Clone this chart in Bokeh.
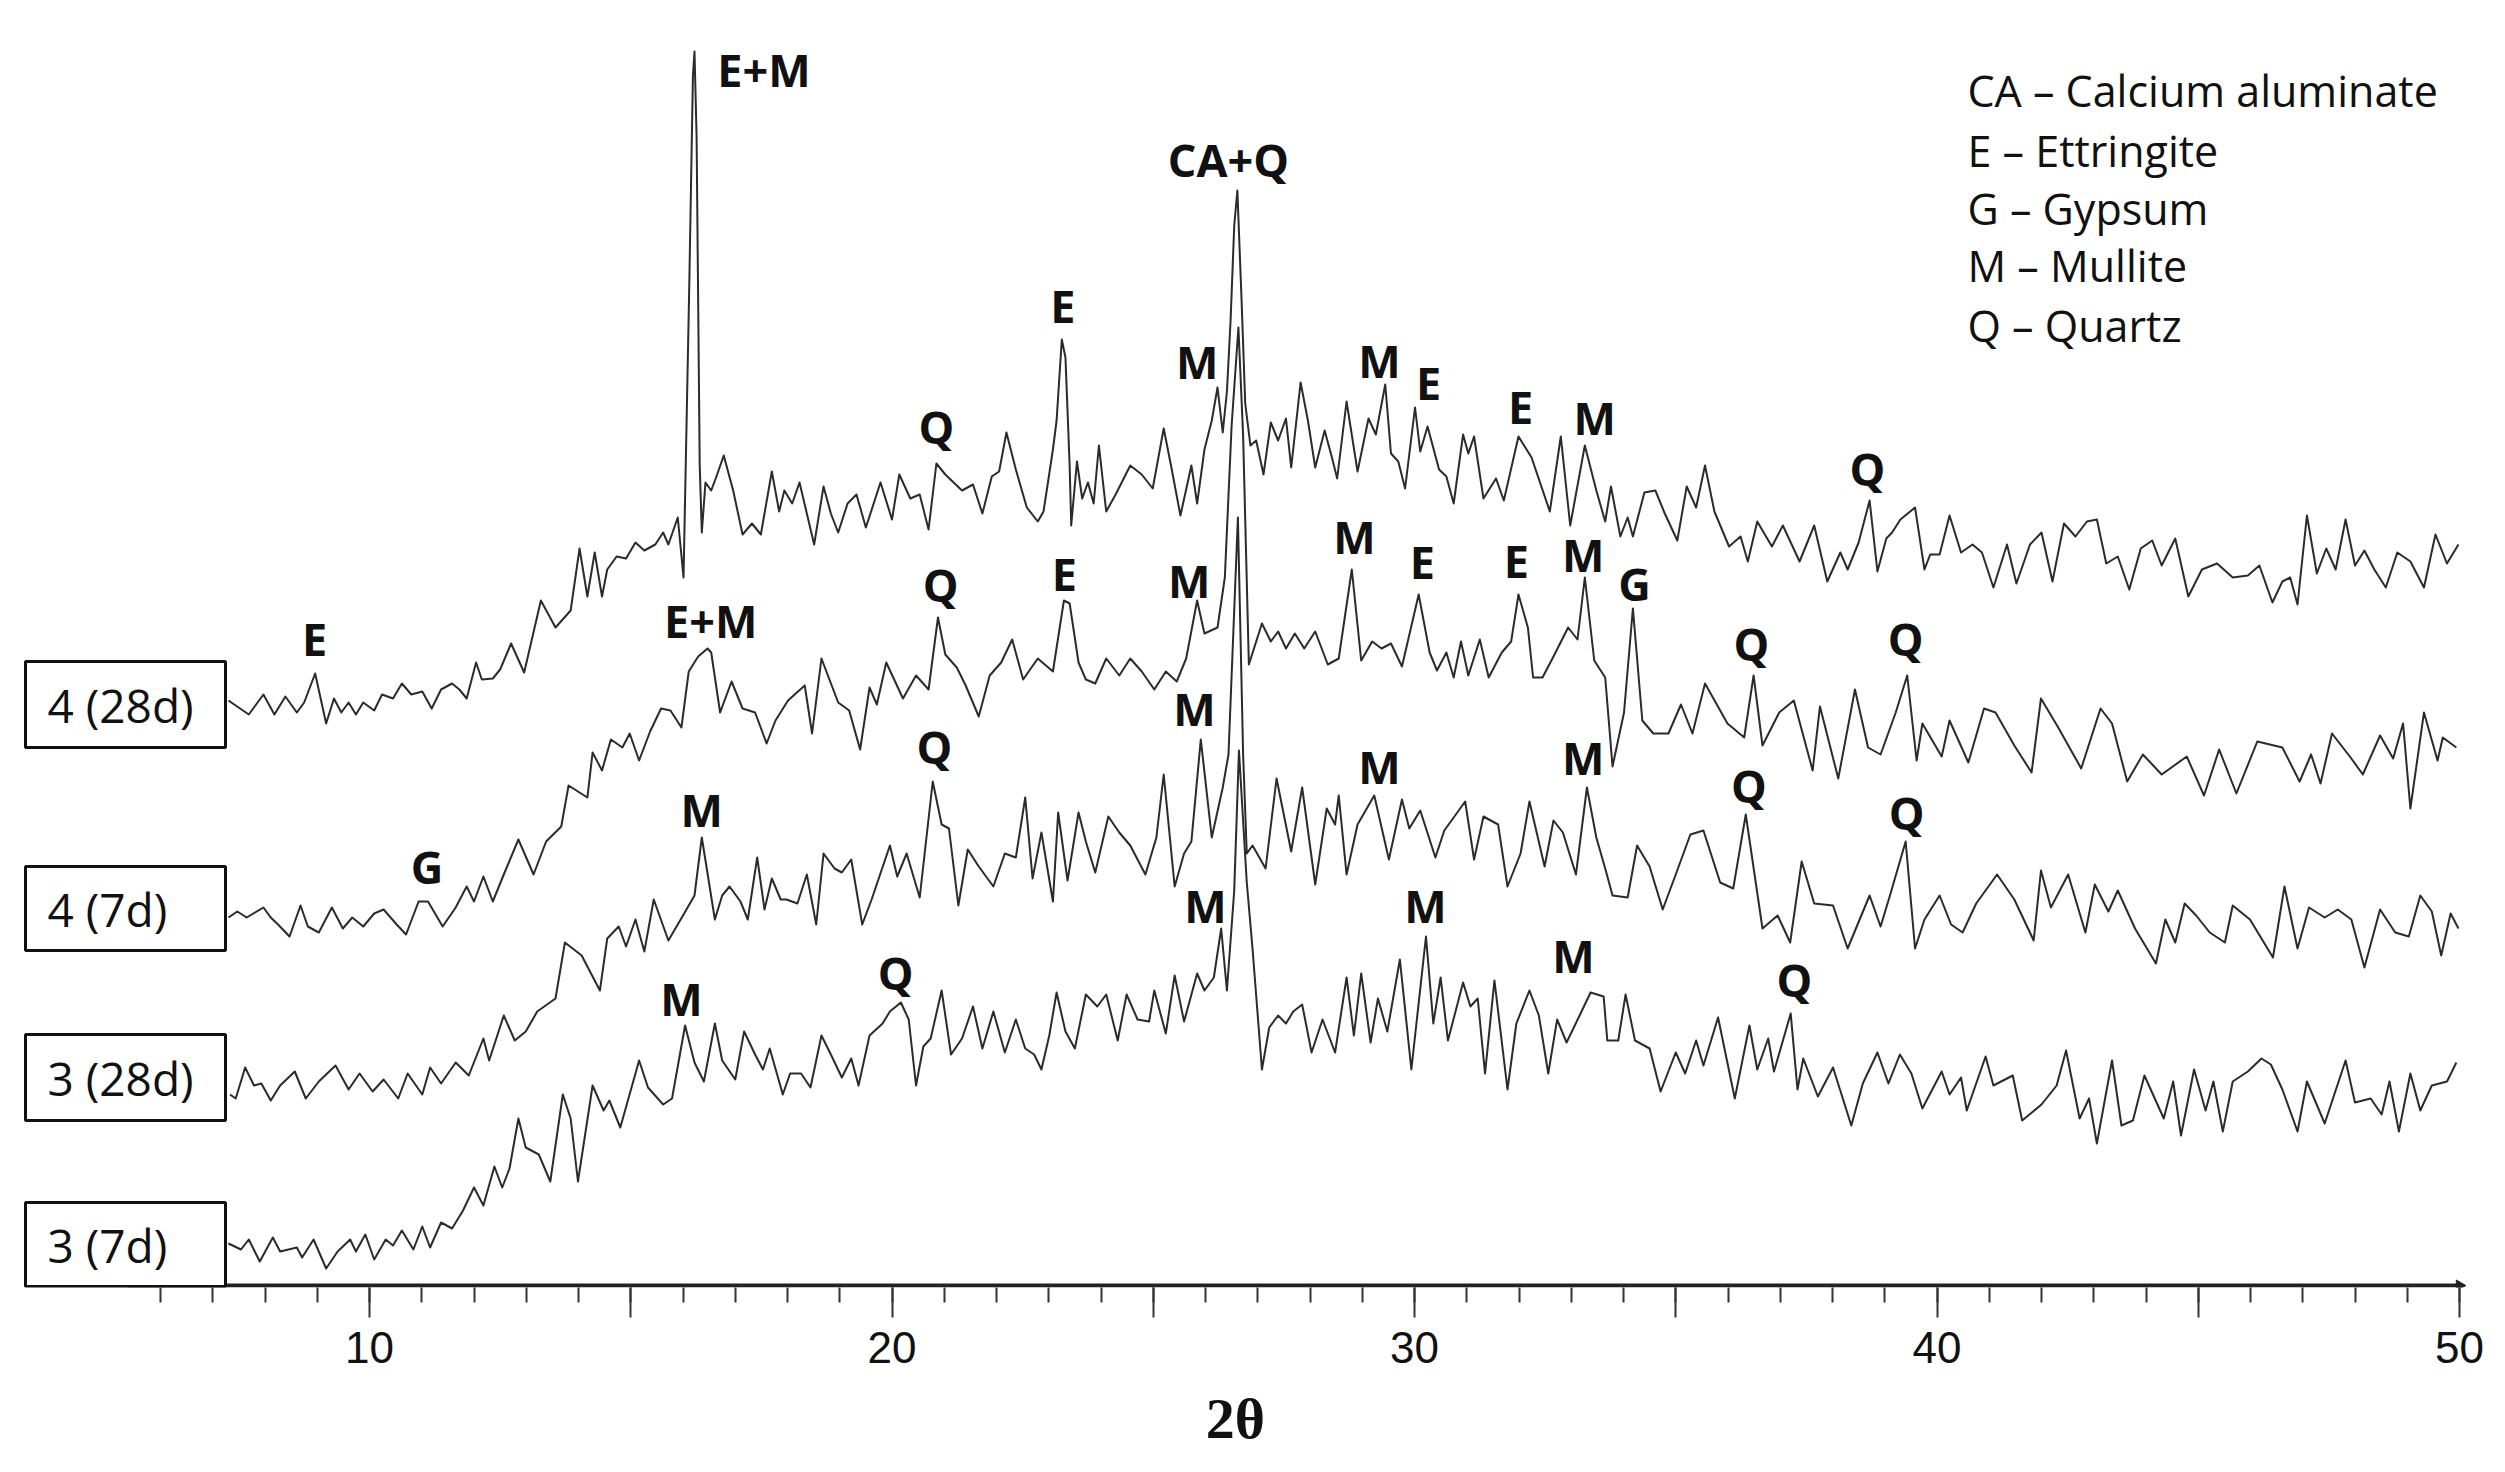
import math
from bokeh.plotting import figure
from bokeh.models import Range1d, FixedTicker, ColumnDataSource
from bokeh.core.properties import value
from bokeh.embed import file_html
from bokeh.resources import INLINE

# ---------------- data (2theta in degrees, intensity in arbitrary units) ----------------
PATTERN_4_28D = [(7.30,5),(7.69,-9),(7.97,11),(8.18,-9),(8.39,9),(8.61,-7),(8.75,3),(8.96,32),(9.17,-18),(9.32,7),(9.46,-7),(9.60,3),(9.74,-9),(9.88,3),(10.09,-5),(10.24,11),(10.45,7),(10.62,22),(10.80,11),(11.01,14),(11.19,-3),(11.37,16),(11.58,22),(11.72,16),(11.86,7),(12.04,43),(12.15,26),(12.36,27),(12.50,36),(12.71,62),(12.96,33),(13.28,105),(13.56,78),(13.85,95),(14.02,157),(14.17,109),(14.31,153),(14.45,109),(14.55,136),(14.73,149),(14.91,147),(15.09,163),(15.26,155),(15.47,161),(15.62,173),(15.72,161),(15.90,188),(16.01,128),(16.12,420),(16.19,630),(16.22,654),(16.26,570),(16.32,240),(16.36,173),(16.43,223),(16.54,215),(16.64,229),(16.78,250),(16.96,215),(17.14,171),(17.32,182),(17.49,171),(17.70,234),(17.84,194),(17.94,215),(18.09,202),(18.23,223),(18.51,161),(18.69,219),(18.83,192),(18.97,173),(19.15,202),(19.32,211),(19.50,178),(19.78,223),(20.00,186),(20.14,231),(20.35,207),(20.53,211),(20.70,176),(20.85,242),(21.02,231),(21.34,215),(21.55,221),(21.73,192),(21.91,229),(22.05,234),(22.19,273),(22.37,236),(22.58,198),(22.79,184),(22.90,194),(23.08,256),(23.15,285),(23.25,366),(23.32,348),(23.40,240),(23.43,180),(23.54,244),(23.64,207),(23.75,223),(23.86,202),(23.96,260),(24.10,194),(24.28,211),(24.56,240),(24.78,231),(24.99,217),(25.20,277),(25.34,240),(25.52,190),(25.73,240),(25.84,202),(25.98,256),(26.12,285),(26.23,318),(26.33,273),(26.41,314),(26.48,385),(26.55,480),(26.61,515),(26.69,406),(26.76,302),(26.86,260),(26.97,265),(27.11,231),(27.25,283),(27.39,265),(27.54,287),(27.64,238),(27.82,323),(27.96,285),(28.10,238),(28.28,275),(28.42,248),(28.52,227),(28.70,304),(28.91,234),(29.12,287),(29.26,271),(29.44,321),(29.55,252),(29.69,244),(29.82,217),(30.01,298),(30.11,254),(30.25,279),(30.47,236),(30.61,229),(30.75,202),(30.93,271),(31.03,252),(31.14,269),(31.32,207),(31.56,227),(31.71,205),(31.99,269),(32.24,248),(32.59,194),(32.80,269),(32.98,180),(33.26,260),(33.48,215),(33.65,184),(33.76,219),(33.94,169),(34.08,188),(34.18,169),(34.40,213),(34.61,215),(34.79,192),(35.03,165),(35.21,219),(35.39,198),(35.56,240),(35.74,194),(36.02,159),(36.24,169),(36.38,144),(36.56,184),(36.84,159),(37.05,180),(37.37,144),(37.65,180),(37.90,124),(38.15,153),(38.29,136),(38.50,163),(38.71,205),(38.86,134),(39.03,167),(39.14,173),(39.30,186),(39.58,198),(39.76,136),(39.87,151),(40.05,151),(40.24,190),(40.46,153),(40.68,161),(40.86,153),(41.08,118),(41.34,161),(41.52,122),(41.78,161),(42.00,173),(42.21,124),(42.43,182),(42.65,169),(42.87,184),(43.06,186),(43.24,142),(43.46,149),(43.68,116),(43.90,157),(44.12,165),(44.30,140),(44.56,167),(44.81,109),(45.07,136),(45.36,142),(45.66,128),(45.95,130),(46.17,140),(46.42,103),(46.61,124),(46.76,128),(46.90,101),(47.08,190),(47.27,132),(47.45,157),(47.63,136),(47.82,186),(48.00,140),(48.18,155),(48.37,136),(48.59,118),(48.81,153),(49.06,144),(49.32,118),(49.54,171),(49.76,142),(49.98,161)]

PATTERN_4_7D = [(7.30,3),(7.47,9),(7.65,3),(7.97,13),(8.11,3),(8.25,-4),(8.47,-16),(8.68,15),(8.82,-6),(9.03,-12),(9.28,13),(9.49,-8),(9.67,3),(9.88,-6),(10.09,7),(10.27,11),(10.52,-4),(10.70,-14),(10.94,19),(11.12,19),(11.40,-6),(11.65,13),(11.86,34),(12.00,19),(12.18,44),(12.36,19),(12.57,46),(12.85,81),(13.14,46),(13.38,79),(13.67,94),(13.81,135),(13.99,129),(14.17,123),(14.27,168),(14.45,150),(14.62,181),(14.84,173),(14.98,187),(15.16,160),(15.37,189),(15.58,212),(15.76,210),(15.97,193),(16.11,249),(16.29,264),(16.47,272),(16.54,268),(16.71,208),(16.93,239),(17.14,212),(17.38,208),(17.60,177),(17.77,200),(18.01,220),(18.33,235),(18.47,187),(18.65,262),(18.97,218),(19.18,210),(19.39,171),(19.57,233),(19.71,216),(19.89,258),(20.21,222),(20.46,245),(20.70,231),(20.88,303),(21.02,266),(21.24,253),(21.41,235),(21.66,204),(21.87,245),(22.09,258),(22.30,281),(22.51,241),(22.79,262),(23.08,249),(23.29,320),(23.40,317),(23.57,258),(23.71,241),(23.89,237),(24.10,262),(24.35,245),(24.56,262),(24.78,249),(25.02,231),(25.24,249),(25.45,239),(25.63,262),(25.84,320),(25.98,287),(26.23,293),(26.37,343),(26.50,495),(26.63,593),(26.72,485),(26.83,256),(27.08,297),(27.25,279),(27.39,289),(27.54,272),(27.71,287),(27.89,272),(28.10,289),(28.34,256),(28.55,262),(28.80,351),(28.98,260),(29.19,279),(29.37,272),(29.55,277),(29.76,254),(30.08,326),(30.29,268),(30.43,250),(30.61,268),(30.75,243),(30.89,279),(31.03,245),(31.25,281),(31.42,243),(31.67,268),(31.85,279),(31.99,326),(32.17,293),(32.27,243),(32.45,243),(32.66,264),(32.94,293),(33.12,281),(33.26,343),(33.44,260),(33.65,243),(33.79,154),(34.01,208),(34.18,312),(34.36,200),(34.57,187),(34.86,187),(35.10,216),(35.32,187),(35.56,237),(35.99,197),(36.31,183),(36.49,245),(36.66,175),(36.98,208),(37.26,220),(37.62,150),(37.76,214),(38.11,142),(38.43,231),(38.68,173),(38.92,166),(39.21,208),(39.43,245),(39.61,160),(39.72,197),(40.09,164),(40.24,200),(40.60,158),(40.90,212),(41.12,208),(41.48,175),(41.81,148),(41.99,222),(42.32,193),(42.76,152),(43.13,212),(43.35,197),(43.64,139),(43.94,166),(44.30,146),(44.78,164),(45.11,125),(45.40,171),(45.73,127),(46.13,179),(46.61,173),(46.94,139),(47.16,166),(47.34,137),(47.56,187),(47.93,162),(48.15,146),(48.48,185),(48.73,162),(48.92,197),(49.06,112),(49.32,208),(49.58,160),(49.68,183),(49.94,173)]

PATTERN_3_28D = [(7.33,1),(7.44,-3),(7.62,28),(7.79,10),(7.93,12),(8.11,-5),(8.29,10),(8.57,24),(8.78,-3),(9.03,14),(9.35,30),(9.60,6),(9.81,22),(10.06,4),(10.27,16),(10.55,-3),(10.73,22),(11.01,1),(11.16,28),(11.37,12),(11.65,33),(11.90,20),(12.18,57),(12.29,35),(12.57,80),(12.78,55),(12.99,64),(13.21,84),(13.56,97),(13.74,153),(14.06,140),(14.41,105),(14.55,157),(14.77,169),(14.91,149),(15.09,176),(15.26,144),(15.44,196),(15.72,155),(16.00,180),(16.22,200),(16.36,258),(16.61,176),(16.75,200),(16.89,209),(17.10,194),(17.24,176),(17.42,238),(17.56,186),(17.70,217),(17.87,196),(17.98,196),(18.19,192),(18.37,221),(18.55,171),(18.69,242),(18.90,227),(19.04,223),(19.22,236),(19.43,171),(19.61,196),(19.96,250),(20.10,219),(20.28,242),(20.53,198),(20.78,314),(20.95,271),(21.09,267),(21.27,190),(21.45,246),(21.66,229),(21.94,209),(22.16,242),(22.37,238),(22.55,298),(22.69,217),(22.86,263),(23.08,194),(23.18,283),(23.36,215),(23.57,283),(23.71,254),(23.89,223),(24.14,279),(24.35,263),(24.56,250),(24.85,221),(25.06,258),(25.20,321),(25.41,209),(25.59,242),(25.73,254),(25.91,356),(26.12,258),(26.33,308),(26.44,341),(26.62,578),(26.72,341),(26.79,242),(26.90,250),(27.15,227),(27.36,317),(27.64,244),(27.85,308),(28.10,211),(28.32,287),(28.48,271),(28.55,300),(28.70,221),(28.91,271),(29.23,300),(29.51,236),(29.76,296),(29.90,267),(30.11,285),(30.40,238),(30.57,265),(30.97,294),(31.14,236),(31.32,279),(31.60,271),(31.78,209),(32.03,242),(32.20,294),(32.49,229),(32.66,275),(32.84,263),(33.09,221),(33.30,308),(33.48,258),(33.65,227),(33.79,200),(34.08,198),(34.26,250),(34.50,229),(34.75,186),(35.00,221),(35.28,261),(35.53,265),(35.85,213),(36.10,207),(36.34,281),(36.66,167),(36.95,180),(37.19,153),(37.41,234),(37.65,192),(38.01,190),(38.29,147),(38.71,200),(38.92,169),(39.10,200),(39.40,254),(39.58,147),(39.76,176),(40.05,200),(40.27,171),(40.49,163),(40.75,192),(41.15,221),(41.48,196),(41.85,155),(41.99,225),(42.18,188),(42.51,221),(42.84,163),(43.02,211),(43.28,184),(43.46,205),(43.79,167),(44.19,132),(44.37,176),(44.56,153),(44.74,192),(44.96,180),(45.22,163),(45.51,153),(45.66,190),(45.99,176),(46.43,138),(46.65,209),(46.90,147),(47.12,188),(47.42,178),(47.67,186),(47.93,176),(48.18,128),(48.48,186),(48.77,163),(49.03,159),(49.25,200),(49.47,184),(49.65,140),(49.83,182),(49.98,167)]

PATTERN_3_7D = [(7.30,2),(7.54,-4),(7.69,6),(7.90,-16),(8.15,8),(8.29,-6),(8.61,-2),(8.71,-12),(8.93,6),(9.17,-23),(9.39,-6),(9.63,6),(9.74,-6),(9.92,11),(10.09,-14),(10.31,6),(10.45,0),(10.62,15),(10.84,-4),(11.01,19),(11.16,-2),(11.37,23),(11.58,17),(11.79,35),(12.00,58),(12.18,40),(12.39,79),(12.54,58),(12.68,77),(12.85,127),(12.99,98),(13.24,91),(13.46,64),(13.70,151),(13.85,127),(13.99,64),(14.27,160),(14.48,135),(14.59,145),(14.80,118),(15.16,185),(15.33,158),(15.62,141),(15.79,147),(16.04,220),(16.22,183),(16.40,164),(16.61,222),(16.75,185),(17.00,166),(17.17,214),(17.38,191),(17.53,176),(17.66,197),(17.91,151),(18.05,172),(18.26,172),(18.44,158),(18.65,210),(18.83,191),(19.04,168),(19.22,187),(19.36,160),(19.57,210),(19.82,222),(19.96,234),(20.17,243),(20.32,226),(20.46,160),(20.60,199),(20.74,207),(20.95,255),(21.13,191),(21.34,207),(21.55,239),(21.73,197),(21.94,234),(22.16,193),(22.37,226),(22.55,197),(22.72,191),(22.86,176),(23.01,210),(23.15,253),(23.32,214),(23.50,197),(23.71,251),(23.93,239),(24.10,251),(24.32,205),(24.49,251),(24.70,226),(24.92,224),(25.02,255),(25.24,212),(25.41,270),(25.59,224),(25.84,272),(25.98,255),(26.16,268),(26.30,317),(26.41,255),(26.55,355),(26.64,495),(26.79,363),(26.90,297),(27.08,176),(27.22,218),(27.39,230),(27.54,222),(27.68,234),(27.85,241),(28.03,193),(28.24,226),(28.48,193),(28.70,268),(28.84,210),(28.98,272),(29.16,203),(29.30,247),(29.48,214),(29.72,286),(29.94,176),(30.22,309),(30.36,222),(30.50,268),(30.64,205),(30.93,263),(31.07,239),(31.21,247),(31.35,172),(31.53,265),(31.78,156),(31.95,222),(32.20,255),(32.38,230),(32.56,172),(32.73,226),(32.91,203),(33.16,230),(33.37,253),(33.62,249),(33.69,205),(33.90,205),(34.04,251),(34.22,205),(34.50,197),(34.71,154),(35.00,193),(35.18,172),(35.39,205),(35.53,180),(35.81,228),(36.13,147),(36.41,220),(36.56,176),(36.77,207),(36.88,174),(37.20,232),(37.33,156),(37.44,187),(37.72,149),(38.01,178),(38.36,120),(38.58,162),(38.86,193),(39.07,162),(39.29,191),(39.51,172),(39.72,137),(40.09,174),(40.24,151),(40.46,168),(40.57,135),(40.93,189),(41.08,160),(41.45,170),(41.63,125),(42.00,141),(42.29,160),(42.47,195),(42.73,127),(42.91,147),(43.06,102),(43.35,185),(43.53,120),(43.75,125),(43.97,170),(44.34,127),(44.52,164),(44.67,110),(44.92,176),(45.14,135),(45.29,164),(45.47,114),(45.66,164),(45.95,174),(46.21,187),(46.39,181),(46.61,156),(46.90,114),(47.08,164),(47.42,122),(47.82,185),(48.00,143),(48.30,147),(48.51,131),(48.66,164),(48.84,114),(49.06,172),(49.25,135),(49.47,160),(49.76,164),(49.94,183)]

SAMPLES = ["4 (28d)", "4 (7d)", "3 (28d)", "3 (7d)"]
PATTERNS = [PATTERN_4_28D, PATTERN_4_7D, PATTERN_3_28D, PATTERN_3_7D]
STACK_OFFSETS = [580, 365, 190, 40]   # vertical offset of each pattern

# phase labels: (text, 2theta, stacked height)
PEAK_LABELS = [
    ("E+M", 17.55, 1216), ("CA+Q", 26.44, 1126), ("E", 23.27, 980), ("M", 25.84, 924),
    ("Q", 20.85, 859), ("M", 29.33, 925), ("E", 30.27, 903), ("E", 32.03, 879),
    ("M", 33.45, 868), ("Q", 38.67, 817),
    ("E", 8.95, 647), ("E+M", 16.53, 665), ("Q", 20.93, 701), ("E", 23.30, 712),
    ("M", 25.69, 705), ("M", 28.85, 749), ("E", 30.15, 724), ("E", 31.95, 725),
    ("M", 33.23, 731), ("G", 34.21, 702), ("Q", 36.45, 642), ("Q", 39.40, 647),
    ("G", 11.10, 419), ("M", 16.36, 476), ("Q", 20.81, 539), ("M", 25.79, 577),
    ("M", 29.33, 519), ("M", 33.23, 528), ("Q", 36.40, 500), ("Q", 39.42, 473),
    ("M", 15.97, 287), ("Q", 20.07, 313), ("M", 26.00, 380), ("M", 30.21, 380),
    ("M", 33.04, 330), ("Q", 37.27, 306),
]

LEGEND_LINES = ["CA \u2013 Calcium aluminate", "E \u2013 Ettringite", "G \u2013 Gypsum",
                "M \u2013 Mullite", "Q \u2013 Quartz"]

MAJOR_TICKS = [10, 15, 20, 25, 30, 35, 40, 45, 50]
LABELLED_TICKS = [10, 20, 30, 40, 50]
MINOR_TICKS = list(range(6, 51))

# ---------------- layout helpers ----------------
W, H = 2489, 1470
PX_PER_DEG = 52.25
X0 = 10 - 369 / PX_PER_DEG
X1 = X0 + 2470 / PX_PER_DEG
Y0, Y1 = -2, 1285

def px_x(fx):   # image pixel -> 2theta
    return X0 + fx / PX_PER_DEG

def px_y(fy):   # image pixel -> plot y
    return 1285 - fy

p = figure(width=W, height=H, x_range=Range1d(X0, X1), y_range=Range1d(Y0, Y1),
           output_backend="svg", toolbar_location=None, y_axis_location=None,
           min_border_left=0, min_border_right=19, min_border_top=0, min_border_bottom=183)
p.outline_line_color = None
p.grid.visible = False
p.background_fill_color = "white"
p.border_fill_color = "white"

# axis
ax = p.xaxis[0]
ax.ticker = FixedTicker(ticks=MAJOR_TICKS, minor_ticks=MINOR_TICKS)
ax.major_label_overrides = {t: ("" if t not in LABELLED_TICKS else str(t)) for t in MAJOR_TICKS}
ax.axis_line_color = None
ax.major_tick_out = 30
ax.major_tick_in = 0
ax.minor_tick_out = 15
ax.minor_tick_in = 0
ax.major_tick_line_color = "#333333"
ax.minor_tick_line_color = "#333333"
ax.major_tick_line_width = 2
ax.minor_tick_line_width = 2
ax.major_label_text_font = "Liberation Sans"
ax.major_label_text_font_size = "44px"
ax.major_label_text_color = "#111111"
ax.major_label_standoff = 14
ax.axis_label = "2\u03b8"
ax.axis_label_text_font = "Liberation Serif"
ax.axis_label_text_font_style = "bold"
ax.axis_label_text_font_size = "58px"
ax.axis_label_text_color = "#111111"
ax.axis_label_standoff = 20

# drawn axis line (starts left of the first tick, as in the original)
p.line([px_x(127), MAJOR_TICKS[-1]], [0, 0], line_color="#222222", line_width=4)
p.scatter([MAJOR_TICKS[-1]], [0], marker="triangle", angle=-math.pi / 2, size=11,
          fill_color="#222222", line_color="#222222")

# patterns
for pat, off in zip(PATTERNS, STACK_OFFSETS):
    tt = [a for a, b in pat]
    inten = [b + off for a, b in pat]
    p.line(tt, inten, line_color="#2b2b2b", line_width=2, line_join="round")

# peak labels
src = ColumnDataSource(dict(x=[l[1] for l in PEAK_LABELS], y=[l[2] for l in PEAK_LABELS],
                            t=[l[0] for l in PEAK_LABELS]))
p.text(x="x", y="y", text="t", source=src, text_font=value("Open Sans"),
       text_font_style="bold", text_font_size="45px", text_align="center",
       text_baseline="middle", text_color="#111111")

# legend text
leg_y = [px_y(v) for v in (90, 150, 208, 265, 325)]
p.text(x=[px_x(1967)] * len(LEGEND_LINES), y=leg_y, text=LEGEND_LINES,
       text_font=value("Open Sans"), text_font_size="43px", text_align="left",
       text_baseline="middle", text_color="#111111")

# sample boxes
box_tops = [661, 866, 1034, 1202]
box_bots = [747, 950, 1120, 1286]
p.quad(left=[px_x(25)] * 4, right=[px_x(225)] * 4,
       top=[px_y(v) for v in box_tops], bottom=[px_y(v) for v in box_bots],
       fill_color="white", line_color="#111111", line_width=3)
p.text(x=[px_x(47)] * 4, y=[px_y((a + b) / 2) for a, b in zip(box_tops, box_bots)],
       text=SAMPLES, text_font=value("Open Sans"), text_font_size="46px",
       text_align="left", text_baseline="middle", text_color="#111111")

open("out.html", "w").write(file_html(p, INLINE))
